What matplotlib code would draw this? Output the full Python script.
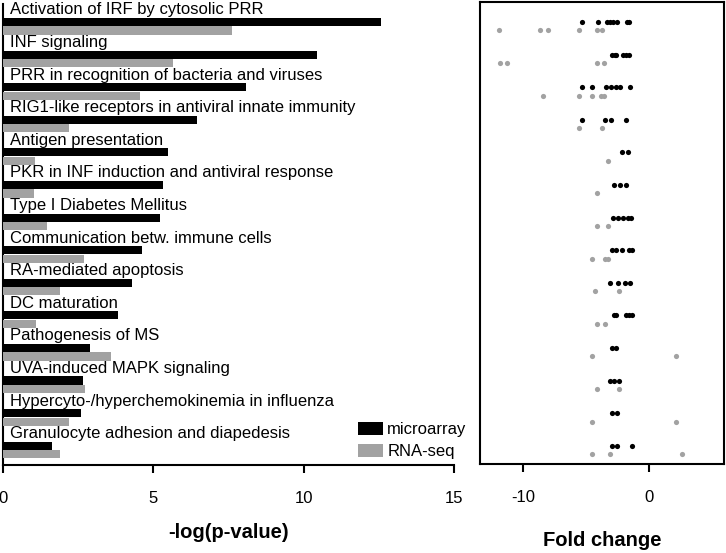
import matplotlib
matplotlib.use("Agg")
import matplotlib.pyplot as plt
from matplotlib.patches import Patch

plt.rcParams['font.family'] = ['Liberation Sans', 'DejaVu Sans']
plt.rcParams['axes.unicode_minus'] = False

categories = [
    "Activation of IRF by cytosolic PRR",
    "INF signaling",
    "PRR in recognition of bacteria and viruses",
    "RIG1-like receptors in antiviral innate immunity",
    "Antigen presentation",
    "PKR in INF induction and antiviral response",
    "Type I Diabetes Mellitus",
    "Communication betw. immune cells",
    "RA-mediated apoptosis",
    "DC maturation",
    "Pathogenesis of MS",
    "UVA-induced MAPK signaling",
    "Hypercyto-/hyperchemokinemia in influenza",
    "Granulocyte adhesion and diapedesis",
]
microarray_p = [12.57, 10.46, 8.09, 6.46, 5.49, 5.32, 5.21, 4.63, 4.30, 3.84, 2.90, 2.66, 2.58, 1.62]
rnaseq_p = [7.60, 5.64, 4.57, 2.19, 1.06, 1.02, 1.46, 2.70, 1.88, 1.09, 3.60, 2.74, 2.20, 1.90]

microarray_fc = [
    [-5.31, -4.04, -3.37, -3.10, -2.85, -2.58, -1.79, -1.58],
    [-2.98, -2.72, -2.59, -2.11, -1.85, -1.59],
    [-5.31, -4.55, -3.38, -3.05, -2.65, -2.33, -1.53],
    [-5.31, -3.46, -3.06, -1.87],
    [-2.14, -1.69],
    [-2.80, -2.33, -1.85],
    [-2.86, -2.46, -2.06, -1.67, -1.40],
    [-2.98, -2.59, -2.19, -1.59, -1.37],
    [-3.12, -2.43, -1.90, -1.53],
    [-2.80, -2.64, -1.87, -1.61, -1.35],
    [-2.98, -2.59],
    [-3.12, -2.80, -2.40],
    [-2.98, -2.51],
    [-2.98, -2.54, -1.37],
]
rnaseq_fc = [
    [-11.93, -8.62, -7.98, -5.58, -4.17, -3.75],
    [-11.80, -11.24, -4.17, -3.60],
    [-8.41, -5.58, -4.55, -3.78, -3.60],
    [-5.58, -3.75],
    [-3.25],
    [-4.15],
    [-4.15, -3.25],
    [-4.55, -3.52, -3.25],
    [-4.25, -2.38],
    [-4.15, -3.46],
    [-4.55, 2.12],
    [-4.17, -2.38],
    [-4.55, 2.12],
    [-4.55, -3.12, 2.57],
]
series_names = ["microarray", "RNA-seq"]

BLACK = "#000000"
GREY = "#a2a2a2"
W, H = 726, 553
fig = plt.figure(figsize=(W / 100, H / 100), dpi=100)

ax1 = fig.add_axes([3 / W, 1 - 465 / H, (454 - 3) / W, (465 - 4) / H])
ax2 = fig.add_axes([480 / W, 1 - 464 / H, (724 - 480) / W, (464 - 2) / H])

off = 0.26
bh = 0.25
n = len(categories)
ys = list(range(n))
ax1.barh([y for y in ys], microarray_p, height=bh, color=BLACK, zorder=3)
ax1.barh([y + off for y in ys], rnaseq_p, height=bh, color=GREY, zorder=3)
for y, lab in zip(ys, categories):
    ax1.text(0.23, y - 0.23, lab, fontsize=12, va='baseline', ha='left', zorder=2)

ax1.set_xlim(0, 15)
ax1.set_ylim(13.59, -0.552)
ax1.set_xticks([0, 5, 10, 15])
ax1.set_yticks([])
for s in ['top', 'right']:
    ax1.spines[s].set_visible(False)
for s in ['left', 'bottom']:
    ax1.spines[s].set_linewidth(1.5)
ax1.tick_params(axis='x', length=6, width=1.5, labelsize=12, pad=13)

for y, xs in zip(ys, microarray_fc):
    ax2.scatter(xs, [y] * len(xs), s=14, color=BLACK, linewidths=0, zorder=3)
for y, xs in zip(ys, rnaseq_fc):
    ax2.scatter(xs, [y + off] * len(xs), s=14, color=GREY, linewidths=0, zorder=3)
ax2.set_xlim(-13.4, 5.93)
ax2.set_ylim(13.56, -0.613)
ax2.set_xticks([-10, 0])
ax2.set_yticks([])
for s in ax2.spines.values():
    s.set_linewidth(1.5)
ax2.tick_params(axis='x', length=6, width=1.5, labelsize=12, pad=13)

fig.text((3 + 454) / 2 / W, 1 - 533 / H, "-log(p-value)", fontsize=14.5, fontweight='bold',
         ha='center', va='center')
fig.text((480 + 724) / 2 / W, 1 - 541 / H, "Fold change", fontsize=14.5, fontweight='bold',
         ha='center', va='center')

handles = [Patch(facecolor=BLACK, edgecolor='none'), Patch(facecolor=GREY, edgecolor='none')]
fig.legend(handles, series_names, loc='upper left', bbox_to_anchor=(358 / W, 1 - 422 / H),
           frameon=False, fontsize=12, borderpad=0, borderaxespad=0, handlelength=1.5,
           handleheight=0.84, handletextpad=0.25, labelspacing=0.38)

fig.savefig("out.png", dpi=100)
